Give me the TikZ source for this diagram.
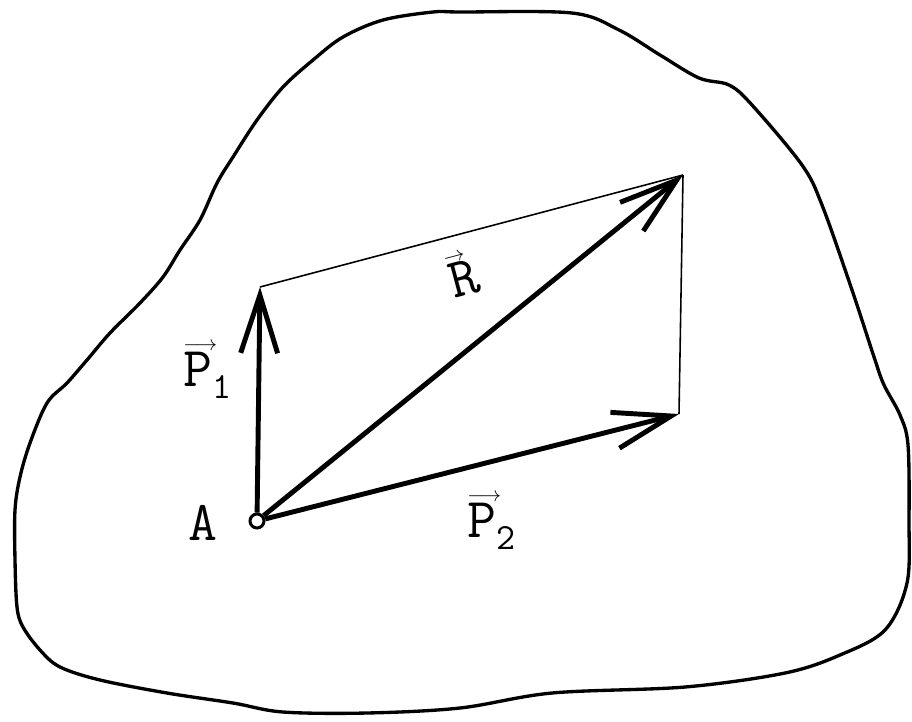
\documentclass[tikz,border=0pt]{standalone}
\usepackage{fontspec}
\usetikzlibrary{arrows.meta}

\newcommand{\labelfont}{\ttfamily\addfontfeature{FakeStretch=0.85}}
\newcommand{\vecsub}[2]{\rlap{\raisebox{20pt}{\fontsize{12}{12}\selectfont$\longrightarrow$}}#1\raisebox{-7pt}{\fontsize{21}{21}\selectfont #2}}
\newcommand{\vecbare}[1]{\rlap{\raisebox{20pt}{\fontsize{12}{12}\selectfont$\rightarrow$}}#1}

\begin{document}
\begin{tikzpicture}[x=0.02cm, y=-0.02cm,
    outline/.style={line width=1.9pt, line join=round},
    force/.style={line width=2.8pt, -{Straight Barb[length=33pt, width=21pt]}},
    side/.style={line width=0.9pt},
    lbl/.style={font=\fontsize{32}{32}\selectfont\labelfont, inner sep=0pt},
    point/.style={circle, draw, line width=1.7pt, fill=white, inner sep=0pt, minimum size=0.28cm}
  ]
  \useasboundingbox (0,0) rectangle (912,721);
  % body outline
  \draw[outline] plot[smooth cycle, tension=0.55] coordinates {
    (460,12) (572,13) (619,30) (660,55) (699,78) (729,85) (752,105) (802,165)
    (822,205) (852,290) (875,360) (884,385) (900,415) (908,445) (909,520)
    (907,583) (885,630) (840,655) (785,673) (685,687) (552,693) (460,708)
    (367,713) (283,712) (233,703) (167,693) (100,680) (60,667) (40,650)
    (23,627) (17,607) (15,560) (15,510) (20,477) (30,443) (47,403) (67,383)
    (87,360) (110,333) (140,303) (163,277) (180,250) (200,220) (217,183)
    (233,157) (257,120) (283,87) (313,60) (343,37) (383,20) (433,12)};

  \node[point] (A) at (257,521) {};
  \coordinate (p1) at (260,287);
  \coordinate (p2) at (679,414);
  \coordinate (r)  at (683,175);

  \draw[side] (p1) -- (r);
  \draw[side] (p2) -- (r);
  \draw[force] (A) -- (p1);
  \draw[force] (A) -- (p2);
  \draw[force] (A) -- (r);

  \node[lbl, anchor=base] (la) at (203,540) {A};
  \node[lbl, anchor=base west] (lp1) at (183,386) {\vecsub{P}{1}};
  \node[lbl, anchor=base west] (lp2) at (467,537) {\vecsub{P}{2}};
  \node[lbl, anchor=base west, rotate=15] (lr) at (454,299) {\vecbare{R}};
\end{tikzpicture}
\end{document}
